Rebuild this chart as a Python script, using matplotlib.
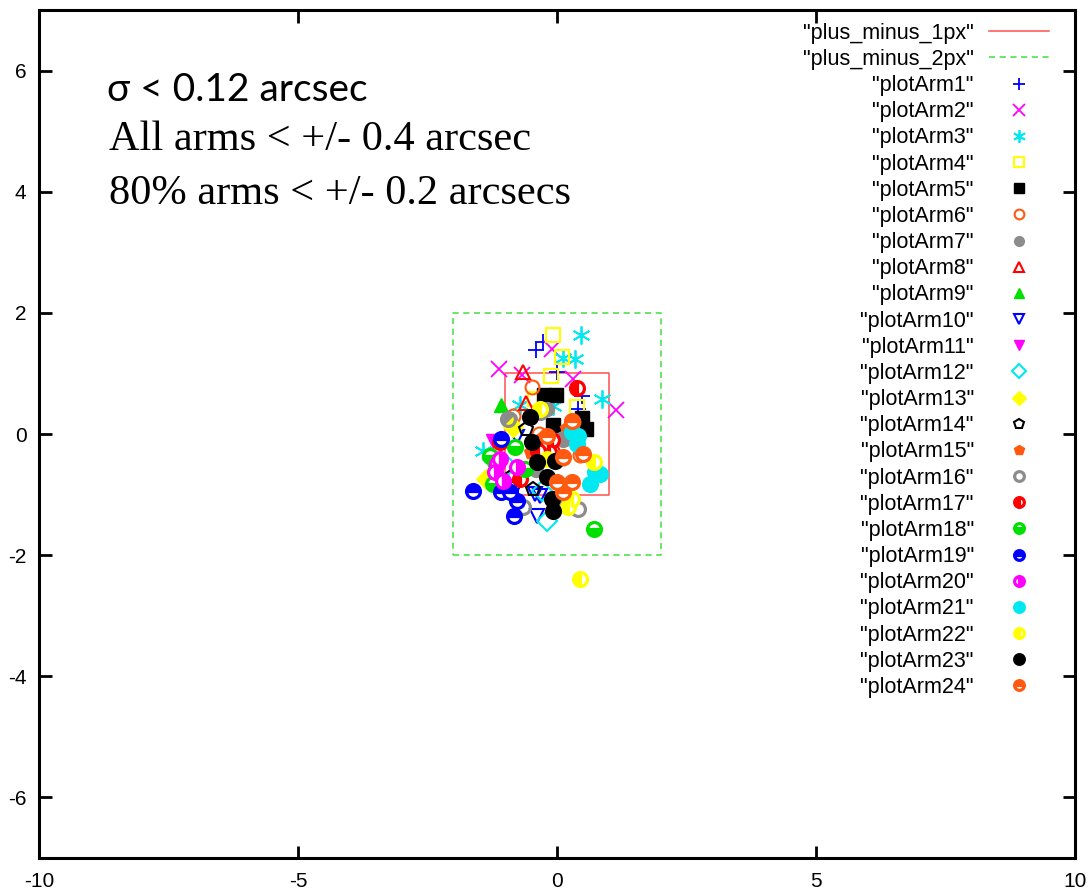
import matplotlib
matplotlib.use("Agg")
import matplotlib.pyplot as plt

# ---------------- data ----------------
arm_labels = ['"plotArm%d"' % i for i in range(1, 25)]

arm1_x = [-0.27, -0.41, 0.00, 0.48, 0.41]
arm1_y = [1.52, 1.38, 1.02, 0.62, 0.41]
arm2_x = [-1.12, -0.10, 0.31, 1.14, -0.68]
arm2_y = [1.08, 1.40, 0.90, 0.40, 0.98]
arm3_x = [0.46, 0.12, 0.35, 0.87, -0.71, -1.43, -0.08]
arm3_y = [1.64, 1.26, 1.23, 0.58, 0.48, -0.28, 0.47]
arm4_x = [-0.08, 0.10, -0.12, 0.39, -0.42]
arm4_y = [1.64, 1.27, 0.96, 0.45, 0.58]
arm5_x = [-0.25, -0.02, -0.08, 0.48, 0.56]
arm5_y = [0.65, 0.65, 0.15, 0.26, 0.08]
arm6_x = [-0.48, -0.85, 0.45, 0.12, -0.35, 0.30]
arm6_y = [0.78, 0.30, -0.35, -0.40, 0.00, 0.20]
arm7_x = [-0.90, -0.20, 0.10, -0.40]
arm7_y = [0.25, 0.42, -0.08, -0.60]
arm8_x = [-0.66, -0.60, -0.06]
arm8_y = [1.02, 0.51, -0.20]
arm9_x = [-1.08]
arm9_y = [0.48]
arm10_x = [-0.77, -0.39, -0.42, -0.33, -0.79]
arm10_y = [-0.05, -1.36, -0.99, -1.02, -0.88]
arm11_x = [-1.24]
arm11_y = [-0.11]
arm12_x = [-0.20, -0.29, -0.97]
arm12_y = [-1.44, -0.94, -0.53]
arm13_x = [-1.37, -0.85]
arm13_y = [-0.75, 0.12]
arm14_x = [-0.87, -0.46, -0.60]
arm14_y = [-0.69, -0.91, 0.08]
arm15_x = [-0.27, 0.20, -0.50]
arm15_y = [-0.05, 0.10, -0.30]
arm16_x = [0.40, -0.06, -0.66, -0.95, 0.12, -0.33]
arm16_y = [-1.24, -1.08, -1.21, 0.25, -0.08, 0.36]
arm17_x = [0.39, -0.30, -0.10, -0.71, -1.10, -0.37, -0.15]
arm17_y = [0.76, -0.20, -0.10, -0.75, -0.13, -0.28, -0.30]
arm18_x = [0.71, -1.29, -1.20, -0.81, -1.24, -0.62]
arm18_y = [-1.57, -0.36, -0.47, -0.22, -0.83, -0.58]
arm19_x = [-1.62, -1.08, -0.83, -0.77, -1.08, -0.91]
arm19_y = [-0.94, -0.96, -1.36, -1.10, -0.08, -0.96]
arm20_x = [-1.16, -1.20, -1.04, -0.77, -1.10]
arm20_y = [-0.50, -0.63, -0.78, -0.55, -0.41]
arm21_x = [0.29, 0.41, 0.39, 0.73, 0.64, 0.83]
arm21_y = [0.03, -0.03, -0.17, -0.63, -0.83, -0.66]
arm22_x = [0.44, 0.71, 0.21, 0.29, -0.33, -0.20]
arm22_y = [-2.40, -0.47, -1.21, -1.08, 0.41, -0.41]
arm23_x = [-0.52, -0.48, -0.39, -0.20, -0.04, -0.08, -0.10]
arm23_y = [0.28, -0.13, -0.46, -0.71, -0.45, -1.27, -1.08]
arm24_x = [0.29, 0.50, 0.12, 0.00, 0.12, 0.29, -0.20]
arm24_y = [0.22, -0.33, -0.38, -0.79, -0.96, -0.79, -0.03]

box1_x = [-1, 1, 1, -1, -1]
box1_y = [-1, -1, 1, 1, -1]
box2_x = [-2, 2, 2, -2, -2]
box2_y = [-2, -2, 2, 2, -2]

x_ticks = [-10, -5, 0, 5, 10]
y_ticks = [-6, -4, -2, 0, 2, 4, 6]

arms_x = [arm1_x, arm2_x, arm3_x, arm4_x, arm5_x, arm6_x, arm7_x, arm8_x,
          arm9_x, arm10_x, arm11_x, arm12_x, arm13_x, arm14_x, arm15_x,
          arm16_x, arm17_x, arm18_x, arm19_x, arm20_x, arm21_x, arm22_x,
          arm23_x, arm24_x]
arms_y = [arm1_y, arm2_y, arm3_y, arm4_y, arm5_y, arm6_y, arm7_y, arm8_y,
          arm9_y, arm10_y, arm11_y, arm12_y, arm13_y, arm14_y, arm15_y,
          arm16_y, arm17_y, arm18_y, arm19_y, arm20_y, arm21_y, arm22_y,
          arm23_y, arm24_y]

# ---------------- styles ----------------
BLUE, MAG, CYAN, YEL, BLK, ORG, GRY, RED, GRN = (
    '#0000ff', '#ff00ff', '#00e8f0', '#ffff00', '#000000', '#ff5a10',
    '#8c8c8c', '#ff0000', '#00e000')
color_cycle = [BLUE, MAG, CYAN, YEL, BLK, ORG, GRY, RED, GRN]

# (marker, fillstyle)
styles = [
    ('+', 'full'), ('x', 'full'), ('asterisk', 'full'), ('s', 'none'),
    ('s', 'full'), ('o', 'none'), ('o', 'full'), ('^', 'none'),
    ('^', 'full'), ('v', 'none'), ('v', 'full'), ('D', 'none'),
    ('D', 'full'), ('p', 'none'), ('p', 'full'),
    ('o', 'none'), ('o', 'left'), ('o', 'bottom'), ('o', 'top'),
    ('o', 'right'), ('o', 'full'), ('o', 'left'), ('o', 'full'), ('o', 'top'),
]

plt.rcParams['font.family'] = ['Liberation Sans', 'DejaVu Sans']

fig = plt.figure(figsize=(10.92, 8.96), dpi=100)
ax = fig.add_axes([39 / 1092, 1 - 858 / 896, (1075 - 39) / 1092, (858 - 10) / 896])

ax.plot(box1_x, box1_y, color='#ff5050', lw=1.1, label='"plus_minus_1px"')
ax.plot(box2_x, box2_y, color='#40e040', lw=1.1, ls=(0, (4, 3)), label='"plus_minus_2px"')

for i in range(24):
    c = color_cycle[i % 9]
    m, fs = styles[i]
    kw = dict(ls='none', color=c, label=arm_labels[i])
    if m == 'asterisk':
        kw.update(marker=(6, 2, 0), ms=13, mew=1.3)
    elif m in ('+', 'x'):
        kw.update(marker=m, ms=12, mew=1.3)
    elif i >= 15:
        kw.update(marker='o', ms=10, mew=2.3, fillstyle=fs,
                  markerfacecoloralt='white', markeredgecolor=c,
                  markerfacecolor=c)
    elif fs == 'none':
        kw.update(marker=m, ms=10, mew=1.5, fillstyle='none')
    else:
        kw.update(marker=m, ms=10, mew=1.0)
    ax.plot(arms_x[i], arms_y[i], **kw)

ax.set_xlim(-10, 10)
ax.set_ylim(-7, 7)
ax.set_xticks(x_ticks)
ax.set_yticks(y_ticks)
ax.set_xticklabels([str(v) for v in x_ticks])
ax.set_yticklabels([str(v) for v in y_ticks])
ax.tick_params(direction='in', length=9, width=2, top=True, right=True,
               labelsize=15, pad=9)
ax.tick_params(axis='x', pad=10)
for s in ax.spines.values():
    s.set_linewidth(2.2)

leg = ax.legend(loc='upper right', bbox_to_anchor=(0.975, 0.985),
                frameon=False, markerfirst=False, fontsize=15.5,
                handlelength=2.8, handletextpad=0.7, labelspacing=0.24,
                borderpad=0, borderaxespad=0, markerscale=0.7, numpoints=1)
for col in leg._legend_handle_box.get_children():
    col.align = 'right'

ax.text(0.066, 0.8927, 'σ < 0.12 arcsec', transform=ax.transAxes,
        fontsize=28, family=['Lato', 'DejaVu Sans'], va='baseline')
ax.text(0.068, 0.835, 'All arms < +/- 0.4 arcsec', transform=ax.transAxes,
        fontsize=30.5, family=['Liberation Serif', 'DejaVu Serif'], va='baseline')
ax.text(0.068, 0.7712, '80% arms < +/- 0.2 arcsecs', transform=ax.transAxes,
        fontsize=30.5, family=['Liberation Serif', 'DejaVu Serif'], va='baseline')

fig.savefig('out.png', dpi=100)
